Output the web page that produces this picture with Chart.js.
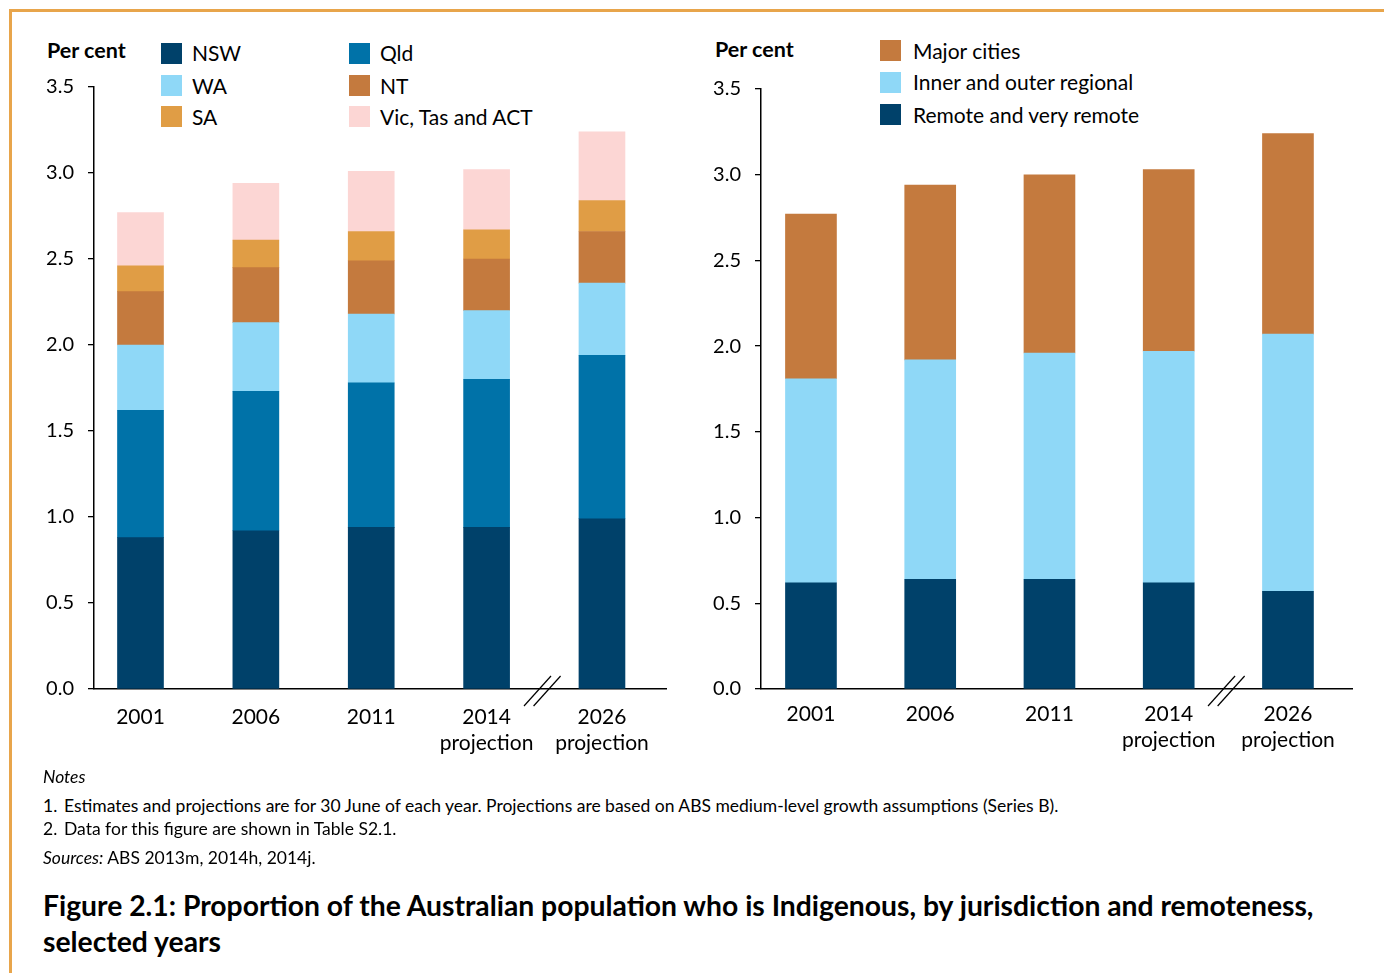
<!DOCTYPE html>
<html>
<head>
<meta charset="utf-8">
<script src="https://cdn.jsdelivr.net/npm/chart.js@4.4.1/dist/chart.umd.min.js"></script>
<style>
  body { margin: 0; width: 1384px; height: 973px; background: #fff; position: relative; overflow: hidden; font-family: Lato, sans-serif; color: #000; }
  .frame-top { position: absolute; left: 9px; top: 9px; width: 1375px; height: 3px; background: #e8a54b; }
  .frame-left { position: absolute; left: 9px; top: 9px; width: 3px; height: 964px; background: #e8a54b; }
  .abs { position: absolute; white-space: nowrap; }
  .unit { font-weight: 700; font-size: 21.5px; line-height: 24px; }
  .leg-box { position: absolute; width: 21px; height: 21px; }
  .leg-text { position: absolute; font-size: 21px; line-height: 24px; white-space: nowrap; }
  .note { font-size: 17.5px; line-height: 20px; }
  .title { font-weight: 700; font-size: 28.3px; line-height: 34px; }
  canvas { position: absolute; top: 0; }
</style>
</head>
<body>
<div class="frame-top"></div>
<div class="frame-left"></div>

<div class="abs unit" style="left:47px; top:38px;">Per cent</div>
<div class="abs unit" style="left:715px; top:37px;">Per cent</div>
<div id="legLeft"></div>
<div id="legRight"></div>

<canvas id="chartLeft" width="690" height="780" style="left:0px;"></canvas>
<canvas id="chartRight" width="704" height="780" style="left:680px;"></canvas>

<div class="abs note" style="left:43px; top:767px; font-style:italic;">Notes</div>
<div class="abs note" style="left:43px; top:796px;">1.</div>
<div class="abs note" style="left:64px; top:796px;">Estimates and projections are for 30 June of each year. Projections are based on ABS medium-level growth assumptions (Series B).</div>
<div class="abs note" style="left:43px; top:819px;">2.</div>
<div class="abs note" style="left:64px; top:819px;">Data for this figure are shown in Table S2.1.</div>
<div class="abs note" style="left:43px; top:848px;"><i>Sources:</i> ABS 2013m, 2014h, 2014j.</div>

<div class="abs title" style="left:43px; top:888px;">Figure 2.1: Proportion of the Australian population who is Indigenous, by jurisdiction and remoteness,</div>
<div class="abs title" style="left:43px; top:924px;">selected years</div>

<script>
// categories
const years = [['2001'], ['2006'], ['2011'], ['2014', 'projection'], ['2026', 'projection']];

// by jurisdiction (per cent, stacked bottom to top)
const nsw = [0.88, 0.92, 0.94, 0.94, 0.99];
const qld = [0.74, 0.81, 0.84, 0.86, 0.95];
const wa  = [0.38, 0.40, 0.40, 0.40, 0.42];
const nt  = [0.31, 0.32, 0.31, 0.30, 0.30];
const sa  = [0.15, 0.16, 0.17, 0.17, 0.18];
const vicTasAct = [0.31, 0.33, 0.35, 0.35, 0.40];

// by remoteness (per cent, stacked bottom to top)
const remote = [0.62, 0.64, 0.64, 0.62, 0.57];
const regional = [1.19, 1.28, 1.32, 1.35, 1.50];
const majorCities = [0.96, 1.02, 1.04, 1.06, 1.17];

// y axis ticks
const yTicks = [0, 0.5, 1.0, 1.5, 2.0, 2.5, 3.0, 3.5];

const NAVY = '#00416a';
const BLUE = '#0072a8';
const LIGHTBLUE = '#8fd8f7';
const BROWN = '#c47a3e';
const ORANGE = '#e09d45';
const PINK = '#fcd6d4';

const toPoints = arr => arr.map((v, i) => ({ x: i, y: v }));

const jurisSeries = [
  { label: 'NSW', data: nsw, color: NAVY },
  { label: 'Qld', data: qld, color: BLUE },
  { label: 'WA', data: wa, color: LIGHTBLUE },
  { label: 'NT', data: nt, color: BROWN },
  { label: 'SA', data: sa, color: ORANGE },
  { label: 'Vic, Tas and ACT', data: vicTasAct, color: PINK }
];
const remoteSeries = [
  { label: 'Remote and very remote', data: remote, color: NAVY },
  { label: 'Inner and outer regional', data: regional, color: LIGHTBLUE },
  { label: 'Major cities', data: majorCities, color: BROWN }
];

// two little slashes across the x axis between 2014 and 2026
const breakMarks = {
  id: 'breakMarks',
  afterDraw(chart) {
    const ctx = chart.ctx;
    const cx = chart.scales.x.getPixelForValue(3.5);
    const y = chart.scales.y.getPixelForValue(0);
    ctx.save();
    ctx.strokeStyle = '#000';
    ctx.lineWidth = 1.2;
    [-4.8, 4.8].forEach(d => {
      ctx.beginPath();
      ctx.moveTo(cx + d - 15.5, y + 17);
      ctx.lineTo(cx + d + 11.5, y - 13);
      ctx.stroke();
    });
    ctx.restore();
  }
};

function makeChart(id, series, opt) {
  return new Chart(document.getElementById(id), {
    type: 'bar',
    data: {
      datasets: series.map(s => ({
        label: s.label,
        data: toPoints(s.data),
        backgroundColor: s.color,
        borderWidth: 0,
        barThickness: opt.barWidth
      }))
    },
    options: {
      responsive: false,
      animation: false,
      layout: { padding: { top: opt.top, right: opt.right, left: 0, bottom: 0 } },
      plugins: { legend: { display: false }, tooltip: { enabled: false } },
      scales: {
        x: {
          type: 'linear',
          offset: false,
          stacked: true,
          min: opt.xMin,
          max: opt.xMax,
          grid: { display: false },
          border: { display: true, color: '#000', width: 1.5 },
          afterBuildTicks: s => { s.ticks = years.map((_, i) => ({ value: i })); },
          afterFit: s => { s.height = 780 - opt.bottom; },
          ticks: {
            autoSkip: false,
            maxRotation: 0,
            padding: opt.labelPad,
            color: '#000',
            font: { family: 'Lato', size: 21, lineHeight: 1.24 },
            callback: v => years[v]
          }
        },
        y: {
          stacked: true,
          min: 0,
          max: 3.5,
          grid: { drawOnChartArea: false, drawTicks: true, tickLength: 6, color: '#000', lineWidth: 1.3 },
          border: { display: true, color: '#000', width: 1.5 },
          afterBuildTicks: s => { s.ticks = yTicks.map(v => ({ value: v })); },
          afterFit: s => { s.width = opt.axisLeft; },
          ticks: {
            padding: 14,
            color: '#000',
            font: { family: 'Lato', size: 20 },
            callback: v => v.toFixed(1)
          }
        }
      }
    },
    plugins: [breakMarks]
  });
}

makeChart('chartLeft', jurisSeries, { top: 87, right: 24, bottom: 689, axisLeft: 94, xMin: -0.403, xMax: 4.555, barWidth: 46, labelPad: 7 });
makeChart('chartRight', remoteSeries, { top: 89, right: 32, bottom: 689, axisLeft: 81, xMin: -0.419, xMax: 4.537, barWidth: 51, labelPad: 4 });

// legends
function buildLegend(el, items, spots, textGap) {
  items.forEach((it, i) => {
    const [x, cy] = spots[i];
    const box = document.createElement('div');
    box.className = 'leg-box';
    box.style.left = x + 'px';
    box.style.top = (cy - 10.5) + 'px';
    box.style.background = it.color;
    el.appendChild(box);
    const t = document.createElement('div');
    t.className = 'leg-text';
    t.style.left = (x + textGap) + 'px';
    t.style.top = (cy - 12) + 'px';
    t.textContent = it.label;
    el.appendChild(t);
  });
}
buildLegend(document.getElementById('legLeft'), jurisSeries,
  [[161, 53], [349, 53], [161, 85.5], [349, 85.5], [161, 116.5], [349, 116.5]], 31);
buildLegend(document.getElementById('legRight'), remoteSeries.slice().reverse(),
  [[880, 50.5], [880, 82], [880, 114.5]], 33);
</script>
</body>
</html>
